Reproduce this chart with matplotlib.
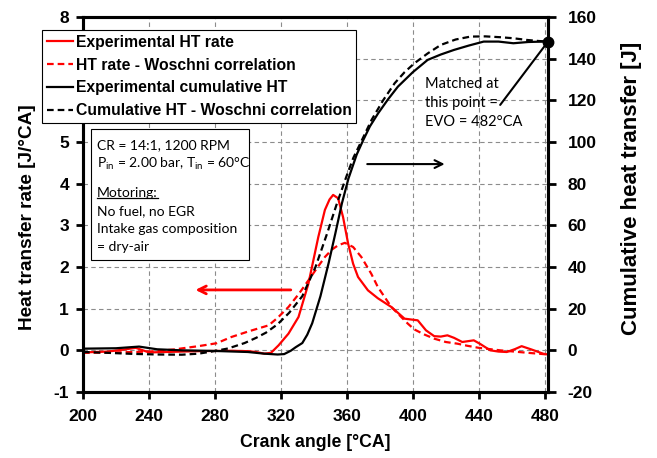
import matplotlib
matplotlib.use("Agg")
import matplotlib.pyplot as plt
from matplotlib import rc
from matplotlib.patches import Rectangle
from matplotlib.lines import Line2D

rc("mathtext", default="regular")
plt.rcParams['font.family'] = ['Liberation Sans', 'DejaVu Sans']
plt.rcParams['axes.unicode_minus'] = False

# --- data ---
# experimental heat transfer rate [J/degCA]
exp_rate_ca = [200, 215, 225, 232, 240, 250, 270, 290, 300, 305, 310, 314, 318.6, 324.6,
               330.7, 336.7, 342.7, 346.7, 349.5, 351.7, 354.7, 357.7, 360.8, 363.8, 366.8,
               372.8, 378.8, 387, 395, 399, 403, 408, 413, 417, 421, 425, 430, 437, 441,
               447, 452, 457, 462, 466, 472, 479, 482]
exp_rate = [-0.05, -0.03, 0.02, 0.06, -0.05, -0.04, -0.02, -0.01, -0.02, -0.04, -0.08,
            -0.06, 0.12, 0.4, 0.8, 1.6, 2.72, 3.37, 3.62, 3.73, 3.65, 3.2, 2.56, 2.08, 1.76,
            1.44, 1.25, 1.04, 0.76, 0.74, 0.72, 0.48, 0.34, 0.33, 0.36, 0.3, 0.2, 0.24, 0.15,
            0.0, -0.03, -0.04, 0.03, 0.1, 0.02, -0.08, -0.1]

# Woschni heat transfer rate [J/degCA]
wos_rate_ca = [200, 220, 240, 255, 270, 281, 290, 300, 312.6, 318, 324.6, 331, 336.7, 342,
               346.7, 351, 354.7, 358.8, 363.8, 368.8, 374.8, 378.8, 387, 397, 401, 407, 413,
               420, 427, 433, 440, 453, 470, 482]
wos_rate = [-0.06, -0.05, -0.03, 0.02, 0.1, 0.17, 0.32, 0.45, 0.6, 0.78, 1.04, 1.36, 1.68,
            1.98, 2.24, 2.42, 2.52, 2.58, 2.48, 2.24, 1.84, 1.52, 1.04, 0.64, 0.5, 0.38, 0.28,
            0.2, 0.16, 0.11, 0.06, 0.0, -0.06, -0.1]

# experimental cumulative heat transfer [J]
exp_cum_ca = [200, 220, 234, 245, 260, 280, 300, 310, 318, 322, 326, 329, 333, 336, 339,
              344, 349, 353, 357, 361, 366, 370, 374, 379, 385, 391, 400, 409, 417, 425,
              434, 443, 452, 461, 470, 479, 482]
exp_cum = [0.8, 1.0, 1.8, 0.5, 0.0, -0.3, -0.8, -1.6, -2.0, -1.8, -0.2, 1.5, 3.5, 7.5, 13,
           26, 42, 56, 70.5, 82.5, 94, 101, 107.5, 113.8, 120.5, 126.6, 133.5, 139.4, 142,
           144.2, 146.3, 148.2, 148.2, 147.4, 148, 148.2, 148.2]

# Woschni cumulative heat transfer [J]
wos_cum_ca = [200, 215, 230, 245, 260, 270, 278, 288, 298, 305, 311, 318, 325, 333, 341,
              348, 354, 360, 364, 368, 375, 382, 389, 395, 401, 409, 417, 426, 435, 444,
              453, 461, 469, 476, 482]
wos_cum = [-0.8, -1.2, -1.7, -2.0, -2.1, -1.6, -0.6, 0.9, 3.5, 6, 8.5, 12.5, 18, 26, 40,
           56, 70.5, 84, 92.5, 99, 110.6, 120, 128.2, 133.5, 137.8, 142.5, 146.6, 149.2,
           150.6, 150.7, 150.3, 149.8, 149, 148.5, 148.2]

evo_ca = 482
evo_cum = 148.2

x_ticks = list(range(200, 481, 40))
left_ticks = list(range(-1, 9))
right_ticks = list(range(-20, 161, 20))

# --- figure ---
fig = plt.figure(figsize=(6.57, 4.58), dpi=100)
ax = fig.add_axes([83 / 657, 1 - 392 / 458, 465 / 657, 375 / 458])
ax2 = ax.twinx()

ax.plot(exp_rate_ca, exp_rate, '-', color='red', lw=1.6)
ax.plot(wos_rate_ca, wos_rate, '--', color='red', lw=1.6, dashes=(3, 1.8))
ax2.plot(exp_cum_ca, exp_cum, '-', color='black', lw=1.6)
ax2.plot(wos_cum_ca, wos_cum, '--', color='black', lw=1.6, dashes=(3, 1.8))
ax2.plot([evo_ca], [evo_cum], 'o', color='black', ms=7.5, clip_on=False, zorder=5)

ax.set_xlim(200, 482)
ax.set_ylim(-1, 8)
ax2.set_ylim(-20, 160)
ax.set_xticks(x_ticks)
ax.set_yticks(left_ticks)
ax2.set_yticks(right_ticks)

ax.set_axisbelow(True)
ax.grid(True, color='#8c8c8c', ls=(0, (4, 3)), lw=0.8)

for a in (ax, ax2):
    for s in a.spines.values():
        s.set_linewidth(2.2)
ax.tick_params(axis='both', direction='out', length=5, width=2, labelsize=12.5, pad=5)
ax.tick_params(axis='x', pad=7)
ax2.tick_params(axis='y', direction='out', length=6, width=2, labelsize=12.5, pad=8)
for lab in ax.get_xticklabels() + ax.get_yticklabels() + ax2.get_yticklabels():
    lab.set_fontweight('bold')

ax.set_xlabel("Crank angle [°CA]", fontsize=12.7, fontweight='bold')
ax.set_ylabel("Heat transfer rate [J/°CA]", fontsize=13.7, fontweight='bold')
ax2.set_ylabel("Cumulative heat transfer [J]", fontsize=16, fontweight='bold')
ax.xaxis.set_label_coords(0.5, -0.112)
ax.yaxis.set_label_coords(-0.101, 0.467)
ax2.yaxis.set_label_coords(1.158, 0.544)

# arrows pointing to each axis
ax.annotate('', xy=(266.5, 1.45), xytext=(327.7, 1.45),
            arrowprops=dict(arrowstyle='->', color='red', lw=2, mutation_scale=14))
ax2.annotate('', xy=(421, 89.4), xytext=(370.7, 89.4),
             arrowprops=dict(arrowstyle='->', color='black', lw=1.5, mutation_scale=14))

# EVO annotation
ax2.annotate('', xy=(evo_ca, evo_cum), xytext=(453, 117.8),
             arrowprops=dict(arrowstyle='-', color='black', lw=1.5, shrinkA=0, shrinkB=0))
ax2.text(407.5, 131, "Matched at\nthis point =\nEVO = 482°CA", fontsize=10.5,
         family=['Lato', 'DejaVu Sans'], va='top', ha='left', linespacing=1.45)

# legend
handles = [Line2D([], [], color='red', lw=1.6),
           Line2D([], [], color='red', lw=1.6, ls='--', dashes=(3, 1.8)),
           Line2D([], [], color='black', lw=1.6),
           Line2D([], [], color='black', lw=1.6, ls='--', dashes=(3, 1.8))]
labels = ["Experimental HT rate", "HT rate - Woschni correlation",
          "Experimental cumulative HT", "Cumulative HT - Woschni correlation"]
leg = fig.legend(handles, labels, loc='upper left',
                 bbox_to_anchor=(42 / 657, 1 - 30 / 458), frameon=True, fancybox=False,
                 edgecolor='black', framealpha=1, borderaxespad=0, borderpad=0.3,
                 handlelength=1.7, handletextpad=0.15, labelspacing=0.5,
                 prop=dict(weight='bold', size=11.3))
leg.get_frame().set_linewidth(0.8)

# info box
fig.patches.append(Rectangle((90.7 / 657, 1 - 260 / 458), (249.3 - 90.7) / 657,
                             (260 - 129) / 458, transform=fig.transFigure,
                             facecolor='white', edgecolor='black', lw=0.8, zorder=2))
info_lines = [("CR = 14:1, 1200 RPM", 145),
              ("P$_{in}$ = 2.00 bar, T$_{in}$ = 60°C", 164),
              ("Motoring:", 193),
              ("No fuel, no EGR", 211),
              ("Intake gas composition", 229),
              ("= dry-air", 247)]
info_texts = []
for txt, ypx in info_lines:
    t = fig.text(97 / 657, 1 - ypx / 458, txt, fontsize=10, family=['Lato', 'DejaVu Sans'],
                 va='center', ha='left', zorder=3)
    info_texts.append(t)

# underline "Motoring:"
fig.canvas.draw()
bb = info_texts[2].get_window_extent()
inv = fig.transFigure.inverted()
(x0, y0), (x1, _) = inv.transform([(bb.x0, bb.y0 + 1), (bb.x1, bb.y0)])
fig.lines.append(Line2D([x0, x1], [y0, y0], transform=fig.transFigure, color='black',
                        lw=0.9, zorder=3))

fig.savefig("out.png", dpi=100)
